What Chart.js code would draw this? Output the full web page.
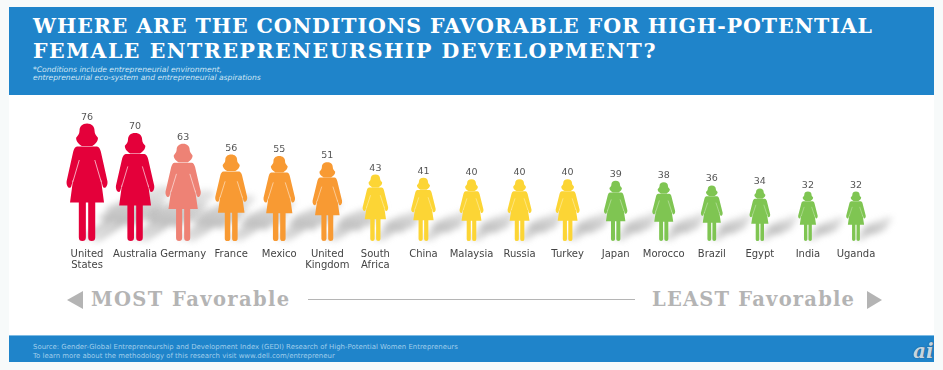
<!DOCTYPE html>
<html>
<head>
<meta charset="utf-8">
<script src="https://cdn.jsdelivr.net/npm/chart.js@4"></script>
<style>
  html, body { margin: 0; padding: 0; background: #f7fafa; }
  #page { position: relative; width: 943px; height: 370px; overflow: hidden; }
  #page div { position: absolute; white-space: nowrap; }
  #sheet { left: 9px; top: 7px; width: 925px; height: 355px; background: #fff; }
  .band { left: 9px; width: 925px; background: #1f84ca; }
  #titulo { left: 33px; top: 14px; color: #fff; font: bold 20.5px/24.5px "DejaVu Serif"; }
  #nota { left: 33px; top: 66px; color: #cfe4f3; font: italic 7.6px/8px "DejaVu Sans"; }
  #fonte { left: 33px; top: 343px; color: #9fcdeb; font: 6.95px/9px "DejaVu Sans"; }
  #logo { left: 913px; top: 340px; color: #c5d5e0; font: italic bold 20px/22px "DejaVu Serif"; text-shadow: 0 0 1px #24557c, 0 0 1px #24557c; }
  .fav { top: 288px; color: #b4b4b4; font: bold 19.5px/24px "DejaVu Serif"; }
  #linha { left: 308px; top: 299px; width: 327px; height: 1px; background: #b5b5b5; }
  .seta { top: 291px; width: 0; height: 0; border-top: 9.5px solid transparent; border-bottom: 9.5px solid transparent; }
  canvas { position: absolute; left: 0; top: 0; }
</style>
</head>
<body>
<div id="page">
  <div id="sheet"></div>
  <div class="band" style="top:7px;height:88px"></div>
  <div class="band" style="top:335px;height:27px;border-top:1px solid #7dbbe4;box-sizing:border-box"></div>
  <div id="titulo"><span style="letter-spacing:0.9px">WHERE ARE THE CONDITIONS FAVORABLE FOR HIGH-POTENTIAL</span><br><span style="letter-spacing:1.53px">FEMALE ENTREPRENEURSHIP DEVELOPMENT?</span></div>
  <div id="nota">*Conditions include entrepreneurial environment,<br>entrepreneurial eco-system and entrepreneurial aspirations</div>
  <div class="seta" style="left:67px;border-right:16px solid #b4b4b4"></div>
  <div class="fav" style="left:91px;letter-spacing:1.4px">MOST Favorable</div>
  <div id="linha"></div>
  <div class="fav" style="left:652px;letter-spacing:1.2px">LEAST Favorable</div>
  <div class="seta" style="left:867px;border-left:15px solid #b4b4b4"></div>
  <div id="fonte">Source: Gender-Global Entrepreneurship and Development Index (GEDI) Research of High-Potential Women Entrepreneurs<br>To learn more about the methodology of this research visit www.dell.com/entrepreneur</div>
  <div id="logo">ai</div>
  <canvas id="grafico" width="943" height="370"></canvas>
</div>
<script>
const paises = [["United", "States"], "Australia", "Germany", "France", "Mexico", ["United", "Kingdom"],
  ["South", "Africa"], "China", "Malaysia", "Russia", "Turkey", "Japan", "Morocco", "Brazil", "Egypt", "India", "Uganda"];
const valores = [76, 70, 63, 56, 55, 51, 43, 41, 40, 40, 40, 39, 38, 36, 34, 32, 32];
const cores = ["#e4003a", "#e4003a", "#ee8275", "#f89a33", "#f89a33", "#f89a33", "#fcd535", "#fcd535", "#fcd535",
  "#fcd535", "#fcd535", "#7fc552", "#7fc552", "#7fc552", "#7fc552", "#7fc552", "#7fc552"];

// silhueta da mulher em coordenadas unitarias: x a partir do centro, y de 0 (topo) a 1 (pes)
function silhueta(ctx) {
  ctx.beginPath();
  // cabelo e rosto
  ctx.moveTo(-0.045, 0.19);
  ctx.bezierCurveTo(-0.07, 0.175, -0.095, 0.15, -0.093, 0.12);
  ctx.bezierCurveTo(-0.08, 0.10, -0.064, 0.09, -0.064, 0.06);
  ctx.bezierCurveTo(-0.064, 0.025, -0.04, 0, 0, 0);
  ctx.bezierCurveTo(0.04, 0, 0.064, 0.025, 0.064, 0.06);
  ctx.bezierCurveTo(0.064, 0.09, 0.08, 0.10, 0.093, 0.12);
  ctx.bezierCurveTo(0.095, 0.15, 0.07, 0.175, 0.045, 0.19);
  ctx.closePath();
  // tronco, bracos e vestido
  ctx.moveTo(-0.085, 0.195);
  ctx.lineTo(0.085, 0.195);
  ctx.bezierCurveTo(0.10, 0.195, 0.112, 0.215, 0.118, 0.24);
  ctx.lineTo(0.174, 0.49);
  ctx.bezierCurveTo(0.18, 0.54, 0.14, 0.57, 0.132, 0.525);
  ctx.lineTo(0.118, 0.47);
  ctx.lineTo(0.145, 0.672);
  ctx.lineTo(-0.145, 0.672);
  ctx.lineTo(-0.118, 0.47);
  ctx.lineTo(-0.132, 0.525);
  ctx.bezierCurveTo(-0.14, 0.57, -0.18, 0.54, -0.174, 0.49);
  ctx.lineTo(-0.118, 0.24);
  ctx.bezierCurveTo(-0.112, 0.215, -0.10, 0.195, -0.085, 0.195);
  ctx.closePath();
  // pernas
  ctx.rect(-0.07, 0.665, 0.06, 0.305);
  ctx.arc(-0.04, 0.97, 0.03, 0, Math.PI);
  ctx.closePath();
  ctx.rect(0.01, 0.665, 0.06, 0.305);
  ctx.arc(0.04, 0.97, 0.03, 0, Math.PI);
  ctx.closePath();
  ctx.fill();
}

const figuras = {
  id: "figuras",
  beforeDatasetDraw(chart, args) {
    const ctx = chart.ctx;
    const barras = args.meta.data;

    // sombras primeiro, para ficarem atras de todas as figuras
    barras.forEach(bar => {
      const h = bar.base - bar.y;
      ctx.save();
      ctx.filter = "blur(3px)";
      ctx.transform(h * 1.1, h * 0.25, -h * 0.68, h * 0.46, bar.x + h * 0.02, bar.base - 1);
      ctx.translate(0, -1);
      const g = ctx.createLinearGradient(0, 0, 0, 1);
      g.addColorStop(0, "rgba(130,130,130,0.2)");
      g.addColorStop(0.7, "rgba(120,120,120,0.5)");
      g.addColorStop(1, "rgba(130,130,130,0.3)");
      ctx.fillStyle = g;
      silhueta(ctx);
      ctx.restore();
    });

    barras.forEach((bar, i) => {
      const h = bar.base - bar.y;
      // figuras pequenas sao proporcionalmente mais largas
      const largura = h * (1 + (117 - h) * 0.002);
      ctx.save();
      ctx.translate(bar.x, bar.y);
      ctx.scale(largura, h);
      ctx.fillStyle = bar.options.backgroundColor;
      silhueta(ctx);
      // fenda branca entre braco e vestido
      ctx.strokeStyle = "rgba(255,255,255,0.8)";
      ctx.lineWidth = 0.007;
      [-1, 1].forEach(lado => {
        ctx.beginPath();
        ctx.moveTo(lado * 0.066, 0.31);
        ctx.lineTo(lado * 0.122, 0.50);
        ctx.stroke();
      });
      ctx.restore();

      ctx.fillStyle = "#555";
      ctx.font = "9.5px 'DejaVu Sans'";
      ctx.textAlign = "center";
      ctx.textBaseline = "alphabetic";
      ctx.fillText(valores[i], bar.x, bar.y - 4);
    });
    return false;
  }
};

new Chart(document.getElementById("grafico"), {
  type: "bar",
  data: {
    labels: paises,
    datasets: [{ data: valores, backgroundColor: cores }]
  },
  options: {
    responsive: false,
    animation: false,
    layout: { padding: { left: 63, right: 63, top: 102, bottom: 0 } },
    plugins: { legend: { display: false }, tooltip: { enabled: false } },
    scales: {
      y: { display: false, min: 0, max: 90 },
      x: {
        grid: { display: false },
        border: { display: false },
        afterFit: s => { s.height = 129; },
        ticks: {
          color: "#444",
          padding: 0,
          maxRotation: 0,
          autoSkip: false,
          font: { family: "'DejaVu Sans'", size: 10, lineHeight: 1.1 }
        }
      }
    }
  },
  plugins: [figuras]
});
</script>
</body>
</html>
